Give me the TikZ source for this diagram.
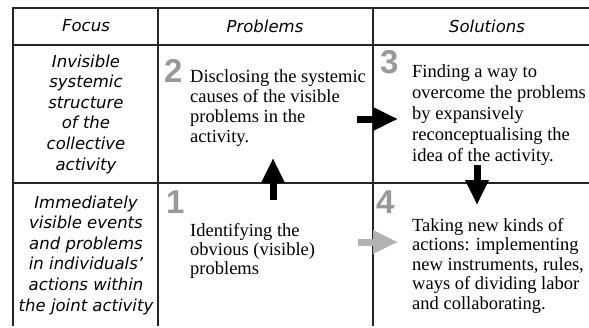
\documentclass[tikz,border=0pt]{standalone}
\usepackage{fontspec}
\setmainfont{Liberation Serif}
\setsansfont{DejaVu Sans}
\newfontfamily\numfont{Liberation Sans}
\usetikzlibrary{arrows.meta}

\begin{document}
\begin{tikzpicture}[x=1pt,y=-1pt,
    grid/.style={line width=1.2pt,black!85},
    head/.style={font=\fontsize{16.5}{20}\sffamily\itshape},
    focus/.style={font=\fontsize{16.5}{20.6}\sffamily\itshape,align=center},
    body/.style={font=\fontsize{18.5}{20}\selectfont,align=left,anchor=north west,inner sep=0pt},
    num/.style={font=\fontsize{33}{33}\numfont\bfseries,text=black!40,anchor=base west,inner sep=0pt},
    bigarrow/.style={line width=7pt,-{Triangle[width=22pt,length=25pt]}}]
            \useasboundingbox (0,0) rectangle (589,327);

            % table lines, open at the right and at the bottom
            \draw[grid] (589,8) -- (13,8) -- (13,326);
            \draw[grid] (13,45) -- (589,45);
            \draw[grid] (13,183) -- (589,183);
            \draw[grid] (158,8) -- (158,326);
            \draw[grid] (373,8) -- (373,326);

            \node[head] (focus) at (86,26) {Focus};
            \node[head] (problems) at (265,26) {Problems};
            \node[head] (solutions) at (487,26) {Solutions};

            \node[focus] (systemic) at (86,114) {Invisible\\systemic\\structure\\of the\\collective\\activity};
            \node[focus] (visible) at (86,255) {Immediately\\visible events\\and problems\\in individuals'\\actions within\\the joint activity};

            \node[num] (n2) at (164,82) {2};
            \node[body] (disclose) at (190,69) {Disclosing the systemic\\causes of the visible\\problems in the\\activity.};
            \node[num] (n3) at (380,73) {3};
            \node[body,font=\fontsize{18.5}{21}\selectfont] (finding) at (412,64) {Finding a way to\\overcome the problems\\by expansively\\reconceptualising the\\idea of the activity.};
            \node[num] (n1) at (166,213) {1};
            \node[body,font=\fontsize{18.5}{19.3}\selectfont] (identify) at (190,223) {Identifying the\\obvious (visible)\\problems};
            \node[num] (n4) at (376,213) {4};
            \node[body,font=\fontsize{18.5}{19.5}\selectfont] (taking) at (412,218) {Taking new kinds of\\actions: implementing\\new instruments, rules,\\ways of dividing labor\\and collaborating.};

            % cycle arrows
            \coordinate (upA) at (273,200);
            \coordinate (upB) at (273,158);
            \coordinate (rtA) at (357,119);
            \coordinate (rtB) at (398,119);
            \coordinate (dnA) at (477,165);
            \coordinate (dnB) at (477,205);
            \coordinate (grA) at (358,242);
            \coordinate (grB) at (398,242);
            \draw[bigarrow] (upA) -- (upB);
            \draw[bigarrow] (rtA) -- (rtB);
            \draw[bigarrow] (dnA) -- (dnB);
            \draw[bigarrow,black!30] (grA) -- (grB);
        \end{tikzpicture}
\end{document}
